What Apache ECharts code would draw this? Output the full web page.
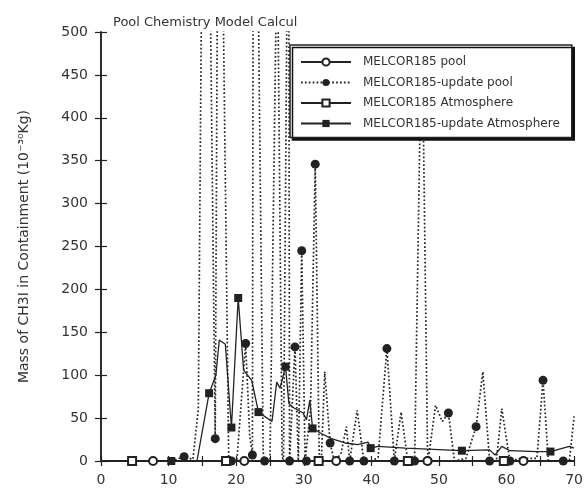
<!DOCTYPE html>
<html>
<head>
<meta charset="utf-8">
<script src="https://cdn.jsdelivr.net/npm/echarts@6/dist/echarts.min.js"></script>
<style>
html, body { margin: 0; padding: 0; background: #fff; }
#chart { width: 586px; height: 488px; }
</style>
</head>
<body>
<div id="chart"></div>
<script>
// MELCOR185 pool (open circles, flat at zero)
const poolX = [0, 7.7, 21.2, 34.8, 48.3, 62.5, 70];
const poolY = [0, 0, 0, 0, 0, 0, 0];
const poolMarks = [7.7, 21.2, 34.8, 48.3, 62.5];

// MELCOR185-update pool (filled circles, dotted)
const poolUpdX = [0, 5, 10.4, 12.3, 13.6, 14.4, 14.85, 16.2, 16.9, 17.2, 18.1, 18.9, 19.3, 20.1, 21.4, 22.0, 22.4,
    22.5, 23.3, 24.0, 24.2, 25.0, 25.9, 26.2, 26.8, 27.0, 27.5, 27.8, 27.9, 28.7, 29.2, 29.7, 30.2, 30.4, 31.0,
    31.7, 32.3, 32.6, 33.1, 33.9, 34.5, 35.5, 36.3, 36.8, 37.9, 38.9, 40.0, 41.0, 42.3, 43.4, 44.4, 45.4, 46.4,
    47.3, 47.6, 48.3, 48.4, 49.5, 50.5, 51.4, 52.3, 54.0, 55.5, 56.5, 57.5, 58.5, 59.3, 60.5, 62.0, 64.5, 65.4,
    66.2, 68.4, 69.3, 70];
const poolUpdY = [0, 0, 0, 5, 2, 60, 520, 520, 26, 520, 520, 0, 0, 0, 137, 30, 7,
    520, 520, 10, 0, 0, 520, 520, 5, 0, 520, 520, 0, 133, 0, 245, 0, 0, 60,
    346, 0, 0, 104, 21, 0, 8, 40, 0, 59, 0, 0, 4, 131, 0, 57, 0, 0,
    440, 450, 20, 0, 65, 46, 56, 0, 3, 40, 104, 0, 0, 61, 0, 3, 3, 94,
    0, 0, 0, 52];
const poolUpdMarks = [12.3, 16.9, 19.3, 21.4, 22.4, 24.2, 27.9, 28.7, 29.7, 30.4, 31.7, 32.3, 33.9, 36.8, 38.9,
    42.3, 43.4, 46.4, 48.4, 51.4, 55.5, 57.5, 60.5, 65.4, 68.4];

// MELCOR185 Atmosphere (open squares, flat at zero)
const atmX = [0, 4.6, 18.5, 32.2, 45.4, 59.6, 70];
const atmY = [0, 0, 0, 0, 0, 0, 0];
const atmMarks = [4.6, 18.5, 32.2, 45.4, 59.6];

// MELCOR185-update Atmosphere (filled squares, solid)
const atmUpdX = [0, 10.4, 14.2, 16.0, 17.0, 17.5, 18.4, 19.3, 20.3, 21.1, 22.3, 23.3, 25.3, 26.0, 26.5, 27.3,
    27.8, 28.5, 29.9, 30.4, 30.9, 31.3, 32.6, 34.1, 36.1, 38.0, 39.5, 39.9, 41.0, 45.0, 50.8, 53.4, 57.5,
    58.3, 59.3, 60.5, 64.5, 66.5, 69.3, 70];
const atmUpdY = [0, 0, 0, 79, 100, 141, 136, 39, 190, 106, 94, 57, 46, 92, 85, 110,
    67, 62, 56, 48, 71, 38, 32, 26, 21, 19, 22, 15, 17, 15, 13, 12, 13,
    7, 17, 12, 11, 11, 17, 15];
const atmUpdMarks = [10.4, 16.0, 19.3, 20.3, 23.3, 27.3, 31.3, 39.9, 53.4, 66.5];

const yTicks = [0, 50, 100, 150, 200, 250, 300, 350, 400, 450, 500];

const ink = '#222';
const txt = '#333';
const font = 'DejaVu Sans';

function makePoints(xs, ys, marks, size) {
    return xs.map(function (x, i) {
        return { value: [x, ys[i]], symbolSize: marks.indexOf(x) >= 0 ? size : 0 };
    });
}

let chart = echarts.init(document.getElementById('chart'));

let frameAxisX = {
    type: 'value', min: 0, max: 70, interval: 10,
    axisLine: { lineStyle: { color: ink, width: 1.5 } },
    axisTick: { inside: true, length: 5, lineStyle: { color: ink, width: 1.2 } },
    minorTick: { show: true, splitNumber: 2, length: 5, lineStyle: { color: ink, width: 1.2 } },
    splitLine: { show: false }
};
let frameAxisY = {
    type: 'value', min: yTicks[0], max: yTicks[yTicks.length - 1], interval: 50,
    axisLine: { show: true, lineStyle: { color: ink, width: 1.5 } },
    axisTick: { show: true, inside: true, length: 6, lineStyle: { color: ink, width: 1.2 } },
    splitLine: { show: false }
};

let option = {
    backgroundColor: '#fff',
    animation: false,
    title: {
        text: 'Pool Chemistry Model Calcul',
        left: 108, top: 11,
        textStyle: { fontFamily: font, fontSize: 13, fontWeight: 'normal', color: txt }
    },
    grid: { left: 101, right: 8, top: 32, bottom: 27 },
    legend: {
        orient: 'vertical',
        left: 290, top: 45,
        padding: [11, 12, 8, 10],
        itemWidth: 50, itemHeight: 9, itemGap: 8.5,
        backgroundColor: '#fff',
        borderColor: ink, borderWidth: 1.5,
        shadowColor: '#111', shadowBlur: 0, shadowOffsetX: 2.5, shadowOffsetY: 2.5,
        textStyle: { fontFamily: font, fontSize: 12, color: txt, padding: [0, 0, 0, 7] },
        data: ['MELCOR185 pool', 'MELCOR185-update pool', 'MELCOR185 Atmosphere', 'MELCOR185-update Atmosphere']
    },
    xAxis: [
        Object.assign({}, frameAxisX, {
            position: 'bottom',
            axisLabel: { color: txt, fontSize: 14, fontFamily: font, margin: 12 }
        }),
        Object.assign({}, frameAxisX, { position: 'top', axisLabel: { show: false } })
    ],
    yAxis: [
        Object.assign({}, frameAxisY, {
            position: 'left',
            name: 'Mass of CH3I in Containment (10\u207B\u00B3\u2070Kg)',
            nameLocation: 'middle', nameGap: 70,
            nameTextStyle: { fontFamily: font, fontSize: 14, color: txt },
            axisLabel: { color: txt, fontSize: 14, fontFamily: font, margin: 13 }
        }),
        Object.assign({}, frameAxisY, { position: 'right', axisLabel: { show: false } })
    ],
    series: [
        {
            name: 'MELCOR185 pool', type: 'line', symbol: 'emptyCircle',
            data: makePoints(poolX, poolY, poolMarks, 8),
            lineStyle: { color: ink, width: 1.3 },
            itemStyle: { color: ink, borderWidth: 1.2 }, z: 3
        },
        {
            name: 'MELCOR185-update pool', type: 'line', symbol: 'circle',
            data: makePoints(poolUpdX, poolUpdY, poolUpdMarks, 9),
            lineStyle: { color: ink, width: 1.7, type: [1.7, 2.2] },
            itemStyle: { color: ink }, z: 2
        },
        {
            name: 'MELCOR185 Atmosphere', type: 'line', symbol: 'emptyRect',
            data: makePoints(atmX, atmY, atmMarks, 8),
            lineStyle: { color: ink, width: 1.3 },
            itemStyle: { color: ink, borderWidth: 1.2 }, z: 3
        },
        {
            name: 'MELCOR185-update Atmosphere', type: 'line', symbol: 'rect',
            data: makePoints(atmUpdX, atmUpdY, atmUpdMarks, 8),
            lineStyle: { color: ink, width: 1.3 },
            itemStyle: { color: ink }, z: 3
        }
    ]
};

chart.setOption(option);
</script>
</body>
</html>
